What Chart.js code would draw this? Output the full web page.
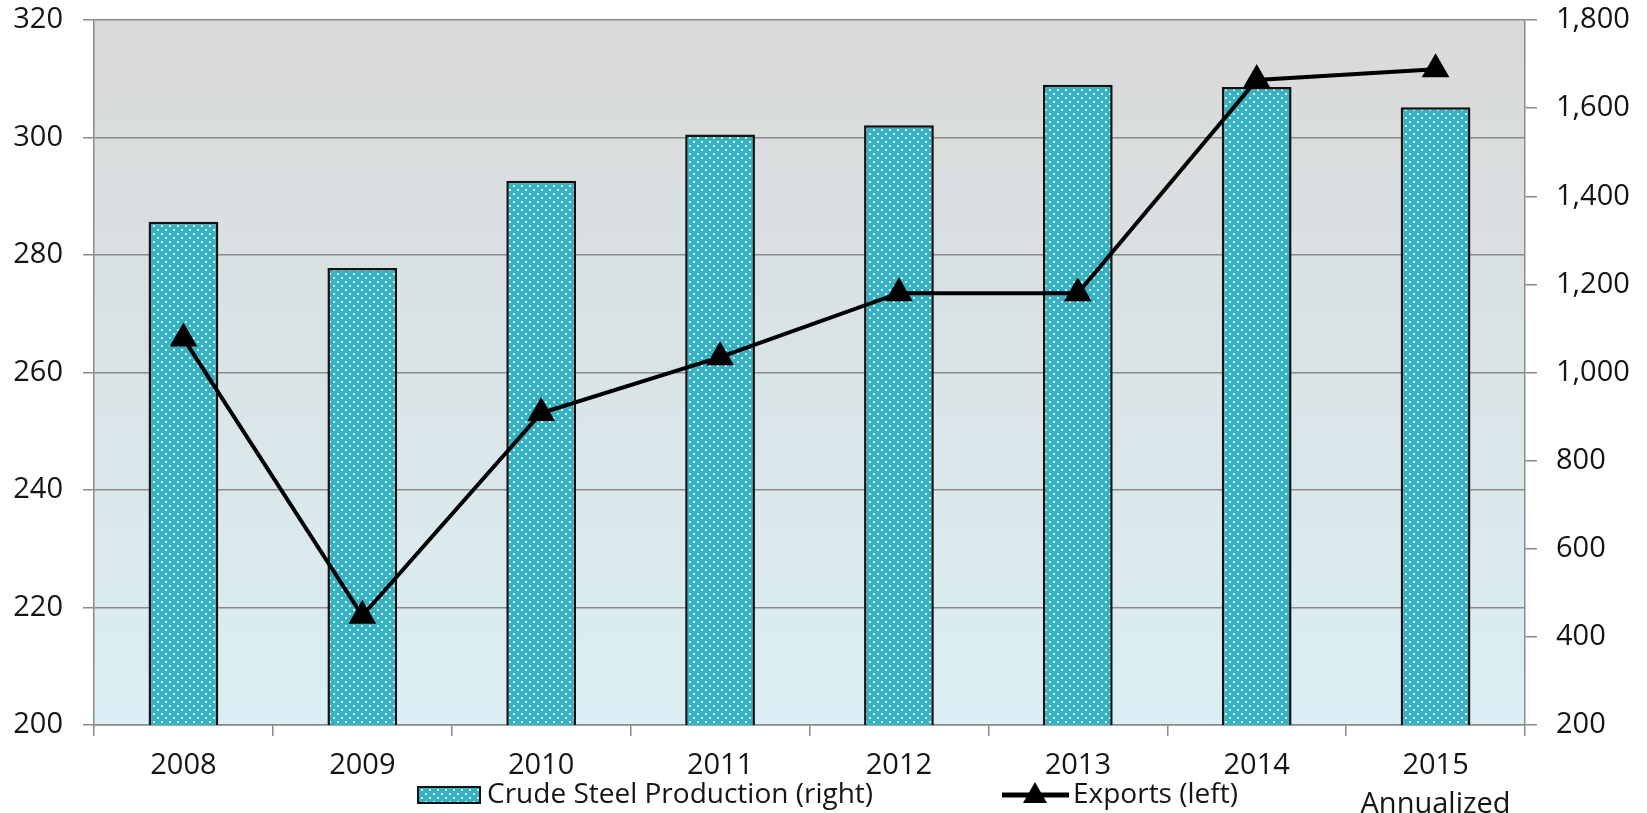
<!DOCTYPE html>
<html>
<head>
<meta charset="utf-8">
<title>Crude Steel Production and Exports</title>
<script src="https://cdn.jsdelivr.net/npm/chart.js@4.4.0/dist/chart.umd.min.js"></script>
<style>
  html, body { margin: 0; padding: 0; background: #fff; }
  #wrap { width: 1647px; height: 813px; position: relative; }
</style>
</head>
<body>
<div id="wrap"><canvas id="chart"></canvas></div>
<script>
"use strict";

// data
const years = ["2008", "2009", "2010", "2011", "2012", "2013", "2014", ["2015", "Annualized"]];
const crudeSteel = [1342, 1237, 1435, 1540, 1561, 1653, 1648, 1602]; // right axis
const exportsLeft = [265.8, 218.6, 253.1, 262.6, 273.5, 273.5, 309.8, 311.6]; // left axis
const leftRange = [200, 320, 20];
const rightRange = [200, 1800, 200];

const FONT = "'Open Sans'";
const TEXT = "#151515";
const GRID = "#8a8a8a";

// teal fill with white dots, like the excel pattern
function dotPattern(ctx) {
  const c = document.createElement("canvas");
  c.width = 8;
  c.height = 8;
  const g = c.getContext("2d");
  g.fillStyle = "#36b2c3";
  g.fillRect(0, 0, 8, 8);
  g.fillStyle = "#d6f0f7";
  g.fillRect(1, 1, 2, 2);
  g.fillRect(5, 5, 2, 2);
  return ctx.createPattern(c, "repeat");
}

const canvas = document.getElementById("chart");
const barFill = dotPattern(canvas.getContext("2d"));

// gray-to-light-blue plot background
const plotBackground = {
  id: "plotBackground",
  beforeDraw(chart) {
    const { ctx, chartArea: a } = chart;
    const grad = ctx.createLinearGradient(0, a.top, 0, a.bottom);
    grad.addColorStop(0, "#d9d9d9");
    grad.addColorStop(1, "#daeff5");
    ctx.save();
    ctx.fillStyle = grad;
    ctx.fillRect(a.left, a.top, a.right - a.left, a.bottom - a.top);
    ctx.restore();
  },
};

// legend sits on the same row as the "Annualized" line, so draw it by hand
const bottomLegend = {
  id: "bottomLegend",
  afterDraw(chart) {
    const ctx = chart.ctx;
    const bars = chart.data.datasets[1];
    const line = chart.data.datasets[0];
    const y = 795;
    ctx.save();
    ctx.fillStyle = barFill;
    ctx.fillRect(418, y - 8, 62, 16);
    ctx.strokeStyle = "#111";
    ctx.lineWidth = 2;
    ctx.strokeRect(418, y - 8, 62, 16);

    ctx.font = "28px " + FONT;
    ctx.fillStyle = TEXT;
    ctx.textBaseline = "middle";
    ctx.fillText(bars.label, 487, y);

    ctx.strokeStyle = "#000";
    ctx.lineWidth = 5;
    ctx.beginPath();
    ctx.moveTo(1002, y);
    ctx.lineTo(1069, y);
    ctx.stroke();
    ctx.fillStyle = "#000";
    ctx.beginPath();
    ctx.moveTo(1035, y - 13);
    ctx.lineTo(1047, y + 8);
    ctx.lineTo(1023, y + 8);
    ctx.closePath();
    ctx.fill();

    ctx.fillStyle = TEXT;
    ctx.fillText(line.label, 1073, y);
    ctx.restore();
  },
};

// keep the plot top at the layout padding, not pushed down by tick label overflow
function fixWidth(w) {
  return function (scale) {
    scale.width = w;
    scale.paddingTop = 0;
    scale.paddingBottom = 0;
  };
}

new Chart(canvas, {
  data: {
    labels: years,
    datasets: [
      {
        type: "line",
        label: "Exports (left)",
        data: exportsLeft,
        yAxisID: "yLeft",
        borderColor: "#000",
        backgroundColor: "#000",
        borderWidth: 4,
        pointStyle: "triangle",
        pointRadius: 16,
        pointBorderWidth: 0,
        pointBackgroundColor: "#000",
        tension: 0,
        order: 0,
      },
      {
        type: "bar",
        label: "Crude Steel Production (right)",
        data: crudeSteel,
        yAxisID: "yRight",
        backgroundColor: barFill,
        borderColor: "#111",
        borderWidth: 2.5,
        barPercentage: 0.39,
        categoryPercentage: 1,
        order: 1,
      },
    ],
  },
  options: {
    responsive: true,
    maintainAspectRatio: false,
    animation: false,
    layout: { padding: { top: 20, left: 0, right: 0, bottom: 0 } },
    plugins: {
      legend: { display: false },
      tooltip: { enabled: false },
    },
    scales: {
      x: {
        offset: true,
        grid: {
          offset: true,
          drawOnChartArea: false,
          drawTicks: true,
          tickLength: 11,
          color: GRID,
          lineWidth: 1.5,
        },
        border: { color: GRID, width: 1.5 },
        ticks: {
          color: TEXT,
          font: { family: FONT, size: 29, lineHeight: 1.36 },
          padding: 10,
          maxRotation: 0,
          autoSkip: false,
        },
        afterFit(scale) {
          scale.height = 88;
          scale.paddingLeft = 0;
          scale.paddingRight = 0;
        },
      },
      yLeft: {
        position: "left",
        min: leftRange[0],
        max: leftRange[1],
        ticks: {
          stepSize: leftRange[2],
          color: TEXT,
          font: { family: FONT, size: 29 },
          padding: 20,
        },
        grid: {
          color: GRID,
          lineWidth: 1.5,
          tickLength: 11,
        },
        border: { color: GRID, width: 1.5 },
        afterFit: fixWidth(94),
      },
      yRight: {
        position: "right",
        min: rightRange[0],
        max: rightRange[1],
        ticks: {
          stepSize: rightRange[2],
          color: TEXT,
          font: { family: FONT, size: 29 },
          padding: 19,
          callback: (v) => v.toLocaleString("en-US"),
        },
        grid: {
          drawOnChartArea: false,
          color: GRID,
          lineWidth: 1.5,
          tickLength: 12,
        },
        border: { color: GRID, width: 1.5 },
        afterFit: fixWidth(122),
      },
    },
  },
  plugins: [plotBackground, bottomLegend],
});
</script>
</body>
</html>
